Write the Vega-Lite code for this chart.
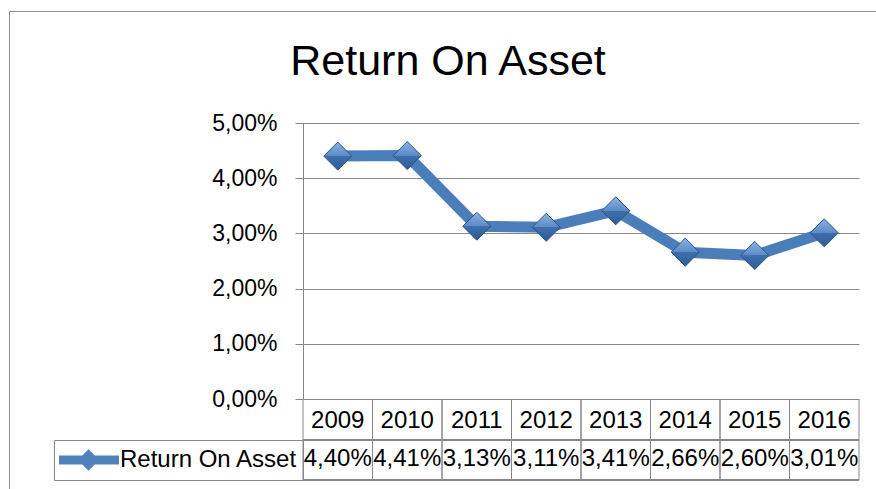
{
  "$schema": "https://vega.github.io/schema/vega-lite/v6.json",
  "width": 556,
  "height": 276,
  "autosize": {"type": "none"},
  "padding": {"left": 303, "top": 123, "right": 17, "bottom": 90},
  "background": "white",
  "title": {"text": "Return On Asset", "font": "Liberation Sans", "fontSize": 43, "fontWeight": "normal", "color": "black", "anchor": "middle", "frame": "group", "baseline": "top", "dx": -133, "offset": -73},
  "data": {"values": [
    {"year": "2009", "roa": 0.0440, "series": "Return On Asset"},
    {"year": "2010", "roa": 0.0441, "series": "Return On Asset"},
    {"year": "2011", "roa": 0.0313, "series": "Return On Asset"},
    {"year": "2012", "roa": 0.0311, "series": "Return On Asset"},
    {"year": "2013", "roa": 0.0341, "series": "Return On Asset"},
    {"year": "2014", "roa": 0.0266, "series": "Return On Asset"},
    {"year": "2015", "roa": 0.0260, "series": "Return On Asset"},
    {"year": "2016", "roa": 0.0301, "series": "Return On Asset"}
  ]},
  "layer": [
    {
      "mark": {"type": "rule", "color": "#868686", "strokeWidth": 1},
      "encoding": {
        "x": {"field": "year", "type": "ordinal", "bandPosition": 0, "scale": {"type": "band", "paddingInner": 0, "paddingOuter": 0}},
        "y": {"datum": 0},
        "y2": {"datum": -0.014674}
      }
    },
    {
      "mark": {"type": "rule", "color": "#868686", "strokeWidth": 1},
      "encoding": {
        "x": {"field": "year", "type": "ordinal", "bandPosition": 1},
        "y": {"datum": 0},
        "y2": {"datum": -0.014674}
      }
    },
    {
      "mark": {"type": "rule", "color": "#868686", "strokeWidth": 1},
      "encoding": {"y": {"datum": -0.007428}}
    },
    {
      "mark": {"type": "rule", "color": "#868686", "strokeWidth": 1},
      "encoding": {"y": {"datum": -0.014674}}
    },
    {
      "mark": {"type": "line", "strokeWidth": 11, "strokeJoin": "round"},
      "encoding": {
        "x": {"field": "year", "type": "ordinal"},
        "y": {"field": "roa", "type": "quantitative", "scale": {"domain": [0, 0.05], "nice": false}},
        "stroke": {
          "field": "series", "type": "nominal",
          "scale": {"range": ["#4A7EBB"]},
          "legend": {
            "orient": "none", "legendX": -249, "legendY": 317, "title": null,
            "padding": 5, "strokeColor": "#868686",
            "symbolType": "M-1,-0.15L-0.2,-0.15L0,-0.35L0.2,-0.15L1,-0.15L1,0.15L0.2,0.15L0,0.35L-0.2,0.15L-1,0.15Z",
            "symbolSize": 3721, "symbolStrokeWidth": 0, "symbolFillColor": "#4F81BD",
            "symbolOffset": -1, "labelOffset": 1, "clipHeight": 30,
            "labelFont": "Liberation Sans", "labelFontSize": 24, "labelColor": "black", "labelLimit": 400,
            "encode": {"symbols": {"update": {"fill": {"value": "#4F81BD"}, "stroke": {"value": "transparent"}, "strokeWidth": {"value": 0}, "opacity": {"value": 1}}}}
          }
        }
      }
    },
    {
      "mark": {
        "type": "point", "filled": true, "size": 784, "opacity": 1,
        "fill": {"gradient": "linear", "x1": 0, "y1": 0, "x2": 0, "y2": 1, "stops": [
          {"offset": 0, "color": "#8DB3E2"}, {"offset": 0.5, "color": "#5A8AC6"},
          {"offset": 0.5, "color": "#3F70AE"}, {"offset": 1, "color": "#2C5C96"}]},
        "stroke": "#2A5384", "strokeWidth": 1
      },
      "encoding": {
        "x": {"field": "year", "type": "ordinal"},
        "y": {"field": "roa", "type": "quantitative"},
        "shape": {
          "field": "series", "type": "nominal",
          "scale": {"domain": ["Return On Asset"], "range": ["diamond"]},
          "legend": {
            "orient": "none", "legendX": -294, "legendY": -112, "title": null,
            "padding": 700, "strokeColor": "#8C8C8C", "labelExpr": "''", "symbolOpacity": 0,
            "encode": {"legend": {"update": {"strokeWidth": {"value": 2}}}}
          }
        }
      }
    },
    {
      "mark": {"type": "text", "font": "Liberation Sans", "fontSize": 24, "color": "black", "baseline": "alphabetic", "align": "center"},
      "encoding": {
        "x": {"field": "year", "type": "ordinal"},
        "y": {"datum": -0.012138},
        "text": {"field": "roa", "type": "quantitative", "format": ".2%"}
      }
    }
  ],
  "config": {
    "locale": {"number": {"decimal": ",", "thousands": ".", "grouping": [3], "currency": ["", " €"]}},
    "view": {"stroke": null},
    "axis": {"title": null},
    "axisX": {"orient": "bottom", "domain": false, "ticks": false, "tickSize": 0, "grid": false, "labelAngle": 0, "labelFont": "Liberation Sans", "labelFontSize": 24, "labelColor": "black", "labelPadding": 28, "labelBaseline": "alphabetic"},
    "axisY": {"format": ".2%", "values": [0, 0.01, 0.02, 0.03, 0.04, 0.05], "grid": true, "gridColor": "#868686", "gridWidth": 1, "domain": true, "domainColor": "#868686", "domainWidth": 1, "ticks": true, "tickColor": "#868686", "tickSize": 8, "labelPadding": 18, "labelFont": "Liberation Sans", "labelFontSize": 23, "labelColor": "black"}
  }
}
